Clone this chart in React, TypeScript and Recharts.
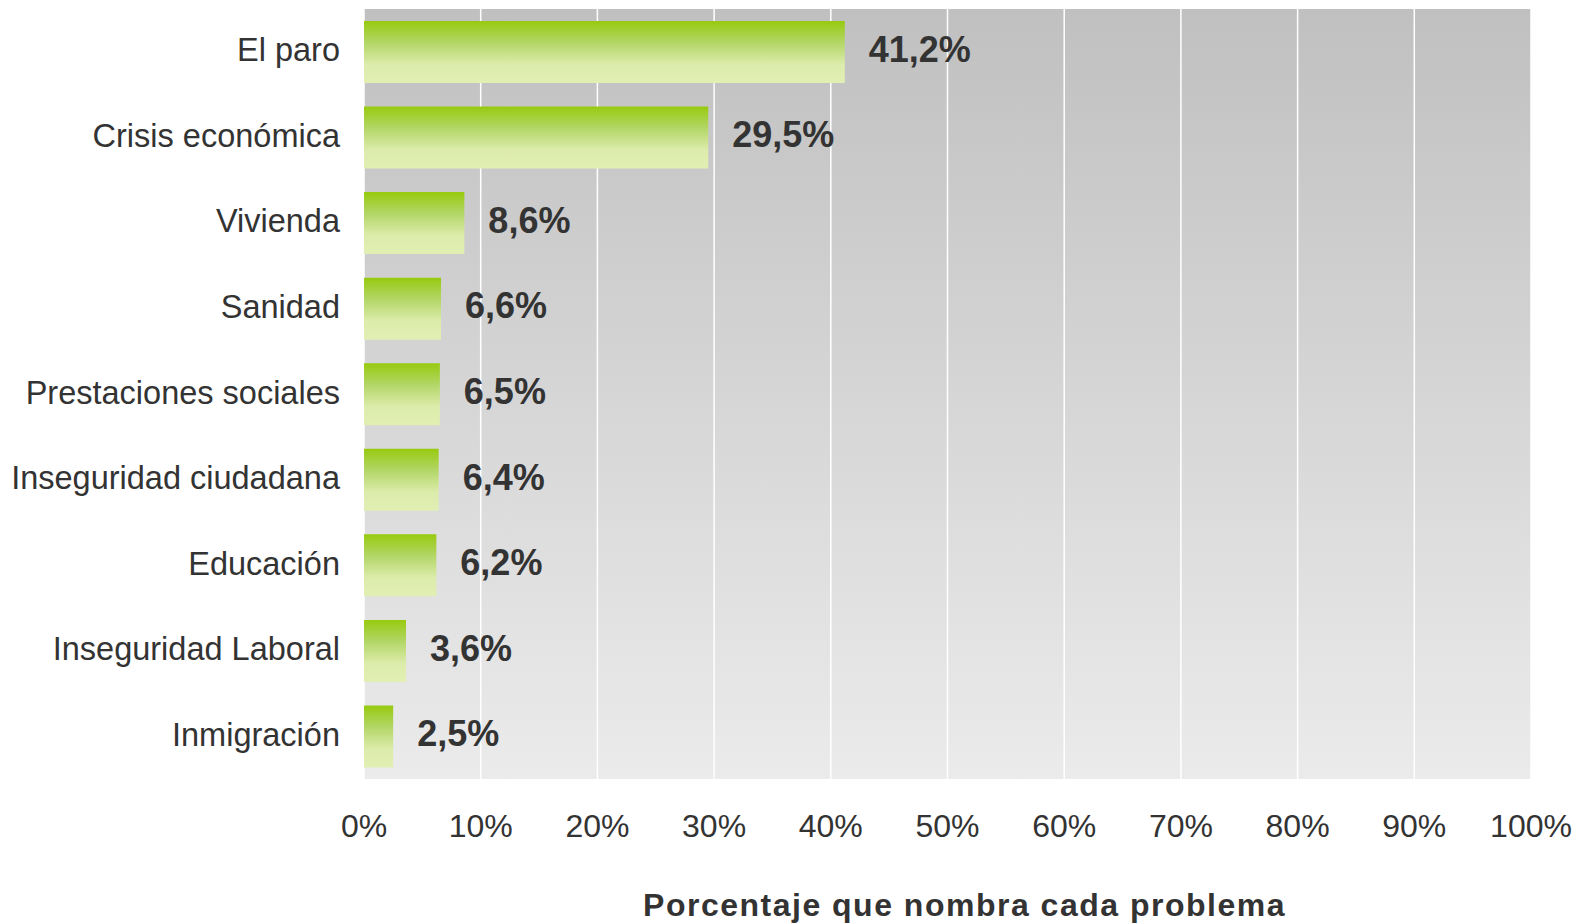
import { Bar, BarChart, CartesianGrid, LabelList, XAxis, YAxis } from "recharts";

const categories = [
  "El paro",
  "Crisis económica",
  "Vivienda",
  "Sanidad",
  "Prestaciones sociales",
  "Inseguridad ciudadana",
  "Educación",
  "Inseguridad Laboral",
  "Inmigración"
];
const values = [41.2, 29.5, 8.6, 6.6, 6.5, 6.4, 6.2, 3.6, 2.5];
const xTicks = [0, 10, 20, 30, 40, 50, 60, 70, 80, 90, 100];

const data = categories.map((name, i) => ({ name, value: values[i] }));

const font = "'Liberation Sans', Arial, sans-serif";
const textColor = "#333333";

const pct = (v: number) => `${v.toFixed(1).replace(".", ",")}%`;

export default function App() {
  return (
    <div style={{ position: "absolute", left: 0, top: 0, width: 1578, height: 924, background: "#fff" }}>
      <BarChart
        width={1578}
        height={924}
        data={data}
        layout="vertical"
        margin={{ top: 9, right: 47, bottom: 0, left: 0 }}
        barCategoryGap={0}
      >
        <defs>
          <linearGradient id="bgGrad" x1="0" y1="0" x2="0" y2="1">
            <stop offset="0%" stopColor="#c0c0c0" />
            <stop offset="100%" stopColor="#ebebeb" />
          </linearGradient>
          <linearGradient id="barGrad" x1="0" y1="0" x2="0" y2="1">
            <stop offset="0%" stopColor="#97ca0f" />
            <stop offset="35%" stopColor="#b3d667" />
            <stop offset="70%" stopColor="#dcecab" />
            <stop offset="100%" stopColor="#e2efb4" />
          </linearGradient>
        </defs>
        <CartesianGrid
          horizontal={false}
          stroke="#ffffff"
          strokeWidth={1.5}
          fill="url(#bgGrad)"
          fillOpacity={1}
        />
        <XAxis
          type="number"
          domain={[0, 100]}
          ticks={xTicks}
          tickFormatter={(v: number) => `${v}%`}
          axisLine={false}
          tickLine={false}
          tickMargin={29}
          height={145}
          tick={{ fill: textColor, fontSize: 32, fontFamily: font }}
          interval={0}
          label={{
            value: "Porcentaje que nombra cada problema",
            position: "insideBottom",
            offset: 8,
            dx: 17,
            style: {
              fill: textColor,
              fontSize: 32,
              fontWeight: "bold",
              fontFamily: font,
              letterSpacing: 1.5
            }
          }}
        />
        <YAxis
          type="category"
          dataKey="name"
          width={364}
          axisLine={false}
          tickLine={false}
          tickMargin={18}
          interval={0}
          tick={{ fill: textColor, fontSize: 32.5, fontFamily: font, dy: -2 }}
        />
        <Bar dataKey="value" fill="url(#barGrad)" barSize={62} isAnimationActive={false}>
          <LabelList
            dataKey="value"
            position="right"
            offset={24}
            formatter={(v: any) => pct(Number(v))}
            style={{ fill: textColor, fontSize: 36, fontWeight: "bold", fontFamily: font, transform: "translateY(-3px)" }}
          />
        </Bar>
      </BarChart>
    </div>
  );
}
